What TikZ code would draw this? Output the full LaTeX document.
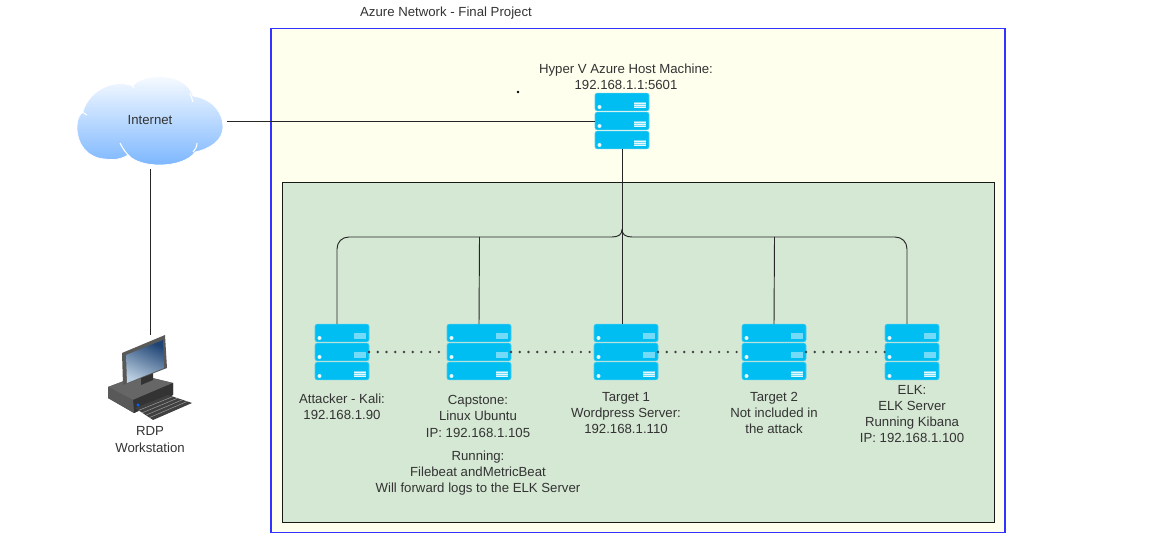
\documentclass[tikz,border=0pt]{standalone}
\usepackage{fontspec}
\usetikzlibrary{calc}
\setmainfont{Liberation Sans}
\definecolor{frameblue}{HTML}{3333FF}
\definecolor{hostbg}{HTML}{FFFFEE}
\definecolor{labbg}{HTML}{D5E8D4}
\definecolor{serverblue}{HTML}{00BEF2}
\definecolor{serveredge}{HTML}{4CCDEF}
\definecolor{txtgrey}{HTML}{333333}
\definecolor{cloudlow}{HTML}{7DB7FF}
\definecolor{screendark}{HTML}{1F4474}
\definecolor{screenlight}{HTML}{B9CDE0}
\tikzset{
    lbl/.style={align=center, text=txtgrey, inner sep=0pt, font=\fontsize{9.9}{12.1}\selectfont},
    serverrow/.style={rectangle, draw=serveredge, fill=serverblue, line width=0.4pt,
        rounded corners=1.5pt, minimum height=13.2pt, inner sep=0pt, outer sep=0pt},
    link/.style={draw=black!85, line width=0.7pt},
    dotlink/.style={draw=black!75, line width=2pt, line cap=round, dash pattern=on 0pt off 6.55pt},
}
% one stack of three rows: name, centre x, top y, width, rows with stripes
\newcommand{\serverstack}[5]{
    \foreach \r/\dy in {1/9, 2/28, 3/47} {
        \node at (#2,#3+\dy) [serverrow, minimum width=#4*0.75pt] (#1\r) {};
        \fill[white!90!serverblue] (#1\r.south west) ++(4.5,-3.8) circle (1.5pt);
        \fill[white!45!serverblue] (#1\r.east) ++(-15,0) rectangle +(12,6);
    }
    \foreach \r in {#5} {
        \foreach \s in {1,3,5} {
            \draw[white!90!serverblue, line width=0.5pt] (#1\r.east) ++(-15,\s) -- +(12,0);
        }
    }
}
\begin{document}
\begin{tikzpicture}[x=0.75pt, y=-0.75pt]
    \useasboundingbox (0,0) rectangle (1156,548);

    % frames
    \node at (638,280.6) [rectangle, draw=frameblue, fill=hostbg, line width=0.8pt, minimum width=550.5pt, minimum height=377.6pt, inner sep=0pt] (azure) {};
    \node at (638.5,352) [rectangle, draw=black!90, fill=labbg, line width=0.6pt, minimum width=534.4pt, minimum height=255pt, inner sep=0pt] (lab) {};
    \node at (446,12.8) [lbl] (title) {Azure Network - Final Project};
    \node at (518,92) [circle, fill=black, inner sep=0pt, minimum size=2.2pt] (speck) {};

    % servers
    \serverstack{host}{622}{93}{54}{1,2,3}
    \serverstack{attacker}{342}{324}{54}{3}
    \serverstack{capstone}{479}{324}{64}{3}
    \serverstack{targetA}{626}{324}{64}{3}
    \serverstack{targetB}{774}{324}{64}{3}
    \serverstack{elk}{912}{324}{54}{3}

    % cloud
    \node at (150,121) [minimum width=109.5pt, minimum height=66pt, inner sep=0pt, outer sep=3pt] (internet) {};
    \shade[top color=white, bottom color=cloudlow, draw=white, line width=0.5pt]
        (83,112) .. controls (88,92) and (112,78) .. (133,86)
        .. controls (140,74) and (185,70) .. (193,96)
        .. controls (212,99) and (223,112) .. (223,127)
        .. controls (223,140) and (210,149) .. (195,152)
        .. controls (190,160) and (175,165) .. (160,165)
        .. controls (147,165) and (135,162) .. (128,155)
        .. controls (120,160) and (112,160) .. (105,159)
        .. controls (88,158) and (77,145) .. (77,127)
        .. controls (77,120) and (79,115) .. (83,112) -- cycle;
    \draw[white, line width=0.8pt] (120,143) .. controls (123,149) and (126,153) .. (130,157);
    \draw[white, line width=0.8pt] (197,143) .. controls (197,147) and (195,150) .. (193,152);
    \draw[white, line width=0.8pt] (190,93) -- (193,102);
    \draw[white, line width=0.8pt] (130,83) -- (134,88);
    \draw[white, line width=0.8pt] (82,112) -- (87,115);
    \node at (150,120) [lbl] (internetLabel) {Internet};

    % workstation
    \node at (150,377.5) [minimum width=63pt, minimum height=63.7pt, inner sep=0pt] (workstation) {};
    \fill[black!70] (108,387) -- (140,375) -- (173,383) -- (173,395) -- (134,413) -- (108,398) -- cycle;
    \fill[black!60] (108,387) -- (140,375) -- (173,383) -- (133,400) -- cycle;
    \fill[black!80] (133,400) -- (173,383) -- (173,395) -- (134,413) -- cycle;
    \fill[black!65] (108,387) -- (133,400) -- (134,413) -- (108,398) -- cycle;
    \fill[black!80] (141,372) -- (153,367) -- (153,380) -- (141,385) -- cycle;
    \fill[black!65] (122,353) -- (165,335) -- (167,368) -- (123,385) -- cycle;
    \shade[top color=screendark, bottom color=screenlight, shading angle=-25] (126,355) -- (163,340) -- (164,368) -- (127,383) -- cycle;
    \fill[black!75] (135,408) -- (168,395) -- (192,403) -- (153,420) -- cycle;
    \foreach \k in {0.2,0.4,0.6,0.8} {
        \draw[black!40, line width=0.4pt] ($(135,408)!\k!(153,420)$) -- ($(168,395)!\k!(192,403)$);
    }
    \fill[blue!60!cyan] (138,405) circle (1.2pt);

    % connectors
    \coordinate (junction) at (622,229.5);
    \coordinate (attackerTop) at (337,324);
    \coordinate (elkTop) at (907,324);
    \coordinate (targetTop) at (622,324);
    \coordinate (capstoneBus) at (479.5,237);
    \coordinate (targetBus) at (774.5,237);
    \draw[link] (internet.east) -- (host2.west);
    \draw[link] (internet.south) -- (workstation.north);
    \draw[link] (host3.south) -- (targetTop);
    \draw[link] (junction) .. controls (622,234) and (619,237) .. (612,237) -- (349,237) .. controls (342,237) and (337,242) .. (337,249) -- (attackerTop);
    \draw[link] (junction) .. controls (622,234) and (625,237) .. (632,237) -- (895,237) .. controls (902,237) and (907,242) .. (907,249) -- (elkTop);
    \draw[link] (capstoneBus) -- (capstone1.north);
    \draw[link] (targetBus) -- (targetB1.north);
    \draw[dotlink] (attacker2.east) -- (capstone2.west);
    \draw[dotlink] (capstone2.east) -- (targetA2.west);
    \draw[dotlink] (targetA2.east) -- (targetB2.west);
    \draw[dotlink] (targetB2.east) -- (elk2.west);

    % labels
    \node at (150,439.5) [lbl] (workstationLabel) {RDP\\Workstation};
    \node at (626,77) [lbl] (hostLabel) {Hyper V Azure Host Machine:\\192.168.1.1:5601};
    \node at (342,407) [lbl] (attackerLabel) {Attacker - Kali:\\192.168.1.90};
    \node at (478,445.5) [lbl] (capstoneLabel) {Capstone:\\Linux Ubuntu\\IP: 192.168.1.105\\[5.4pt]Running:\\Filebeat andMetricBeat\\Will forward logs to the ELK Server};
    \node at (626,413) [lbl] (targetALabel) {Target 1\\Wordpress Server:\\192.168.1.110};
    \node at (774,413) [lbl] (targetBLabel) {Target 2\\Not included in\\the attack};
    \node at (912,414) [lbl] (elkLabel) {ELK:\\ELK Server\\Running Kibana\\IP: 192.168.1.100};
\end{tikzpicture}
\end{document}
